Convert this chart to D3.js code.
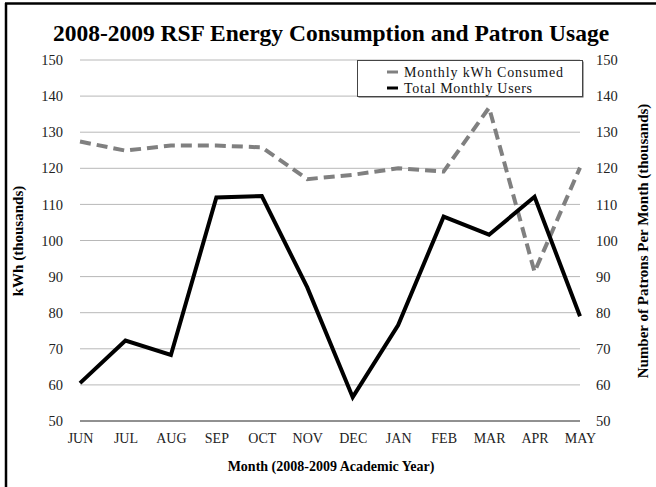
<!DOCTYPE html>
<html><head><meta charset="utf-8">
<script src="https://cdn.jsdelivr.net/npm/d3@7"></script>
<style>
html,body{margin:0;padding:0;background:#fff;}
svg{display:block;}
text{font-family:"Liberation Serif","Times New Roman",serif;}
</style></head>
<body>
<svg id="chart" width="656" height="487"></svg>
<script>
const months = ["JUN","JUL","AUG","SEP","OCT","NOV","DEC","JAN","FEB","MAR","APR","MAY"];
const kwhConsumed = [127.4, 124.9, 126.3, 126.3, 125.8, 117.0, 118.2, 120.0, 119.1, 136.8, 91.3, 120.2];
const monthlyUsers = [60.5, 72.3, 68.3, 111.9, 112.3, 87.0, 56.6, 76.6, 106.6, 101.6, 112.1, 79.0];
const yTicks = [50,60,70,80,90,100,110,120,130,140,150];
const seriesNames = ["Monthly kWh Consumed","Total Monthly Users"];
const titleText = "2008-2009 RSF Energy Consumption and Patron Usage";
const xTitle = "Month (2008-2009 Academic Year)";
const yLeftTitle = "kWh (thousands)";
const yRightTitle = "Number of Patrons Per Month (thousands)";

const svg = d3.select("#chart");
const L = 80, R = 580, T = 60, B = 421;

// frame (left + top borders)
svg.append("line").attr("x1",6).attr("x2",6).attr("y1",3).attr("y2",487).attr("stroke","#000").attr("stroke-width",2.5);
svg.append("line").attr("x1",5).attr("x2",656).attr("y1",3.5).attr("y2",3.5).attr("stroke","#000").attr("stroke-width",2.5);

const x = d3.scalePoint().domain(months).range([L, R]);
const y = d3.scaleLinear().domain([50,150]).range([B, T]);

// gridlines
svg.append("g").selectAll("line").data(yTicks.filter(d=>d>50)).join("line")
  .attr("x1",L).attr("x2",R).attr("y1",d=>y(d)).attr("y2",d=>y(d))
  .attr("stroke","#b8b8b8").attr("stroke-width",1);
// baseline
svg.append("line").attr("x1",L).attr("x2",R).attr("y1",y(50)).attr("y2",y(50)).attr("stroke","#222").attr("stroke-width",1);

// left axis labels
const leftAxis = d3.axisLeft(y).tickValues(yTicks).tickSize(0).tickPadding(17);
const gl = svg.append("g").attr("transform",`translate(${L},0)`).call(leftAxis);
gl.select(".domain").remove();
gl.selectAll("text").attr("font-family","Liberation Serif").attr("font-size",14.5).attr("fill","#222");

const rightAxis = d3.axisRight(y).tickValues(yTicks).tickSize(0).tickPadding(16);
const gr = svg.append("g").attr("transform",`translate(${R},0)`).call(rightAxis);
gr.select(".domain").remove();
gr.selectAll("text").attr("font-family","Liberation Serif").attr("font-size",14.5).attr("fill","#222");

const bottomAxis = d3.axisBottom(x).tickSize(0).tickPadding(12);
const gb = svg.append("g").attr("transform",`translate(0,${B})`).call(bottomAxis);
gb.select(".domain").remove();
gb.selectAll("text").attr("font-family","Liberation Serif").attr("font-size",14).attr("fill","#222");

// lines
const line = d3.line().x((d,i)=>x(months[i])).y(d=>y(d));
svg.append("path").datum(kwhConsumed).attr("d",line).attr("fill","none")
  .attr("stroke","#808080").attr("stroke-width",4).attr("stroke-dasharray","11,6").attr("stroke-linejoin","miter");
svg.append("path").datum(monthlyUsers).attr("d",line).attr("fill","none")
  .attr("stroke","#000").attr("stroke-width",4).attr("stroke-linejoin","miter");

// title
svg.append("text").attr("x",331).attr("y",41).attr("text-anchor","middle")
  .attr("font-weight","bold").attr("font-size",23.5).text(titleText);
// axis titles
svg.append("text").attr("x",331).attr("y",471).attr("text-anchor","middle")
  .attr("font-weight","bold").attr("font-size",14).text(xTitle);
svg.append("text").attr("transform","translate(23,241) rotate(-90)").attr("text-anchor","middle")
  .attr("font-weight","bold").attr("font-size",15).text(yLeftTitle);
svg.append("text").attr("transform","translate(648,241) rotate(-90)").attr("text-anchor","middle")
  .attr("font-weight","bold").attr("font-size",15).text(yRightTitle);

// legend
const lg = svg.append("g");
lg.append("rect").attr("x",358.5).attr("y",61.5).attr("width",225).attr("height",36).attr("fill","#555");
lg.append("rect").attr("x",357.5).attr("y",60.5).attr("width",225).attr("height",36).attr("fill","#fff").attr("stroke","#444").attr("stroke-width",1);
const colors = ["#808080","#000"];
const legendWidths = [159, 128];
seriesNames.forEach((n,i)=>{
  const yy = 72 + i*16;
  lg.append("line").attr("x1",387).attr("x2",398).attr("y1",yy).attr("y2",yy).attr("stroke",colors[i]).attr("stroke-width",3);
  lg.append("text").attr("x",404).attr("y",yy+5).attr("font-family","DejaVu Serif").attr("font-size",14)
    .attr("textLength",legendWidths[i]).attr("lengthAdjust","spacing").attr("fill","#111").text(n);
});
</script>
</body></html>
